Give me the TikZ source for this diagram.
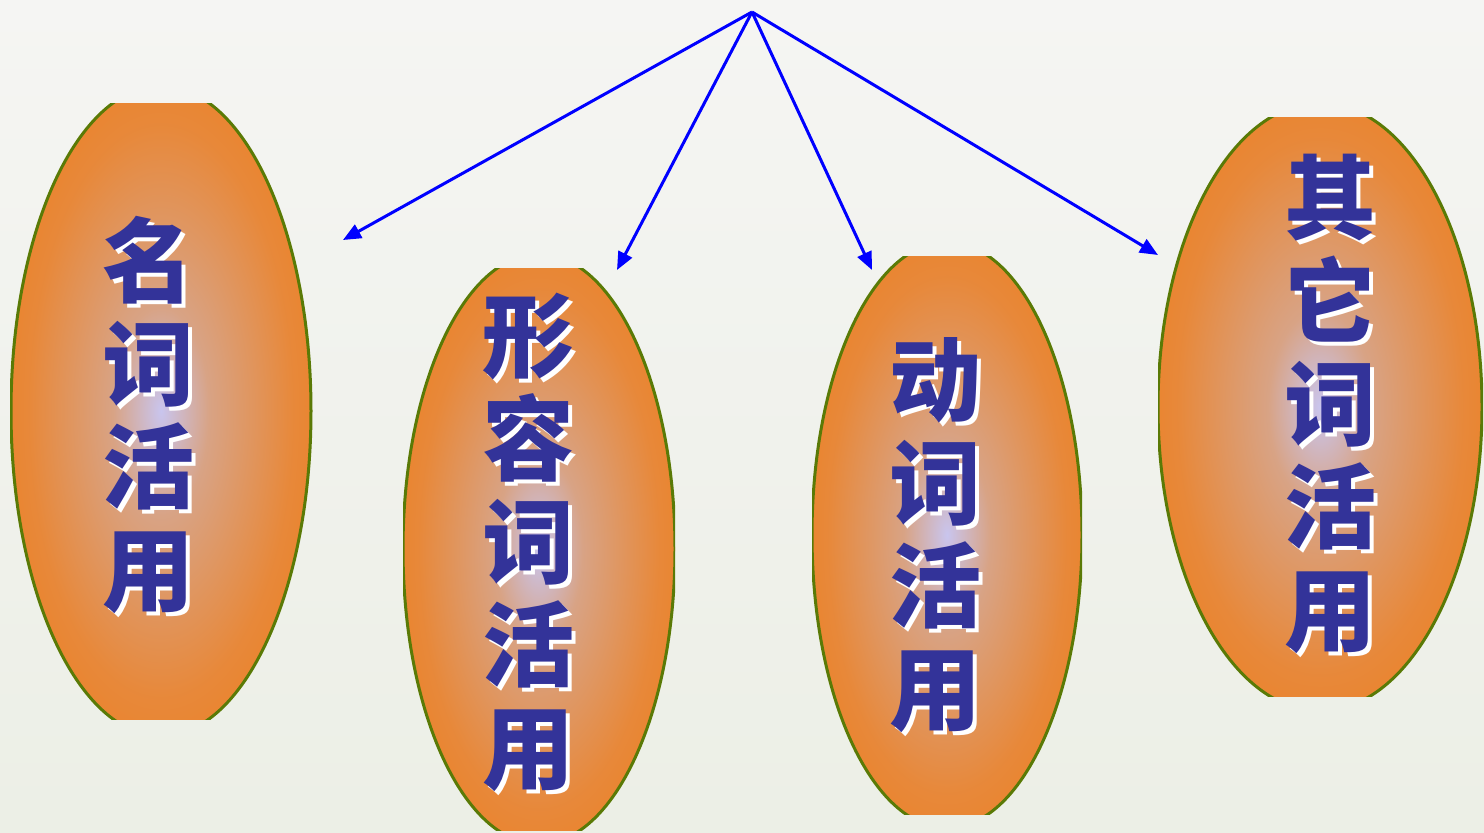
\documentclass[tikz,border=0pt]{standalone}
\usepackage{fontspec}
\newfontfamily\cjk{Noto Sans CJK SC}
\def\largeur{1484}
\def\hauteur{832}
\usetikzlibrary{arrows.meta}
\definecolor{fond}{HTML}{F5F5F3}
\definecolor{fondbas}{HTML}{ECEFE6}
\definecolor{lavande}{HTML}{C9C5EE}
\definecolor{saumon}{HTML}{D8A385}
\definecolor{orangefonce}{HTML}{EE7D1A}
\definecolor{olive}{HTML}{5A7A06}
\definecolor{encre}{HTML}{333399}
\pgfdeclareradialshading{grain}{\pgfpoint{0bp}{0bp}}{color(0bp)=(lavande); color(8bp)=(saumon); color(22bp)=(orangefonce!70!saumon); color(34bp)=(orangefonce); color(50bp)=(orangefonce)}

\begin{document}
\begin{tikzpicture}[x=0.5pt, y=0.5pt,
  mot/.style={font=\cjk\bfseries\fontsize{46}{51.5}\selectfont, align=center, inner sep=0pt, text=encre},
  ombre/.style={mot, text=white},
  fleche/.style={draw=blue, line width=1.5pt, -{Triangle[length=9pt,width=7.5pt]}}]
\useasboundingbox (0,0) rectangle (\largeur,\hauteur);
\shade[top color=fond, bottom color=fondbas] (0,0) rectangle (\largeur,\hauteur);

\foreach \cx/\cy/\ra/\rb/\xa/\ya/\xb/\yb in {161/421/150/325/10/113/313/728,
    539/283/136/295/403/2/675/564,
    947/297/135/293/812/18/1082/576,
    1320/425/162/304/1158/136/1483/714}{
  \begin{scope}
    \clip (\xa,\ya) rectangle (\xb,\yb);
    \shade[shading=grain] (\cx,\cy) ellipse [x radius=\ra, y radius=\rb];
    \draw[olive, line width=1.5pt] (\cx,\cy) ellipse [x radius=\ra, y radius=\rb];
  \end{scope}
}

\node[ombre] (nom-ombre) at (152,413) {名\\词\\活\\用};
\node[mot] (nom) at (148,417) {名\\词\\活\\用};
\node[ombre] (adj-ombre) at (532,286) {形\\容\\词\\活\\用};
\node[mot] (adj) at (528,290) {形\\容\\词\\活\\用};
\node[ombre] (verbe-ombre) at (939,293) {动\\词\\活\\用};
\node[mot] (verbe) at (935,297) {动\\词\\活\\用};
\node[ombre] (autre-ombre) at (1334,424) {其\\它\\词\\活\\用};
\node[mot] (autre) at (1330,428) {其\\它\\词\\活\\用};

\coordinate (sommet) at (752,820);
\coordinate (vers-nom) at (343,592);
\coordinate (vers-adj) at (617,562);
\coordinate (vers-verbe) at (872,562);
\coordinate (vers-autre) at (1158,577);
\draw[fleche] (sommet) -- (vers-nom);
\draw[fleche] (sommet) -- (vers-adj);
\draw[fleche] (sommet) -- (vers-verbe);
\draw[fleche] (sommet) -- (vers-autre);
\end{tikzpicture}
\end{document}
